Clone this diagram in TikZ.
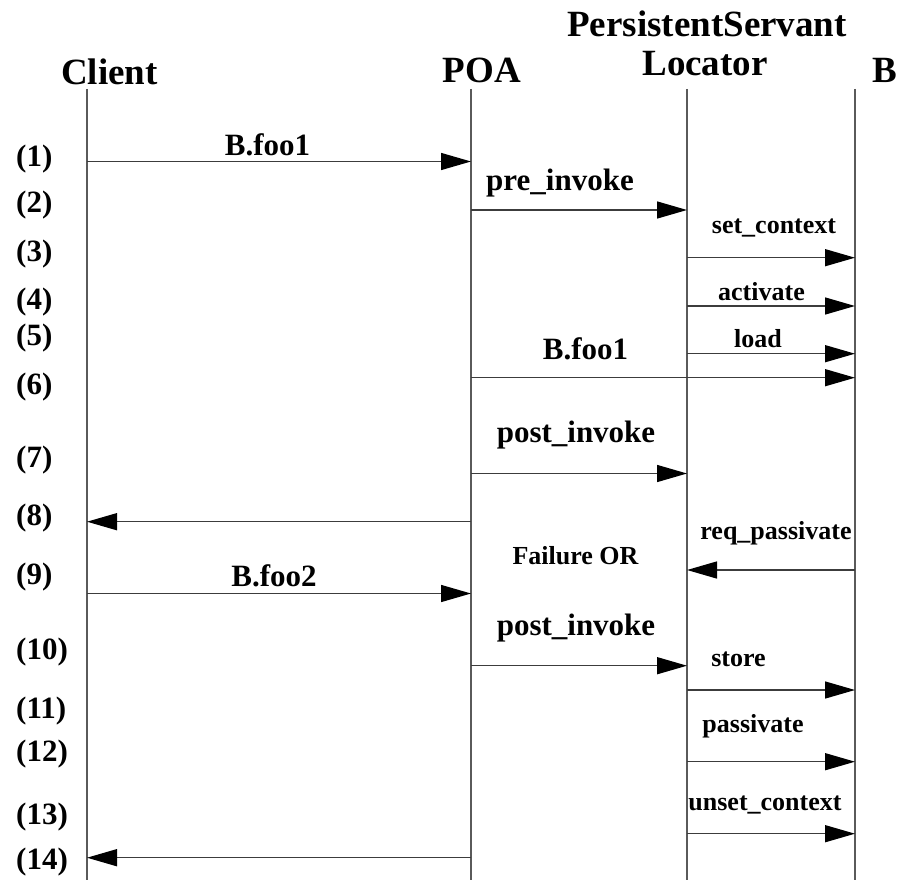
\documentclass[tikz,border=0pt]{standalone}
\usepackage{fontspec}
\setmainfont{Liberation Serif}
\usetikzlibrary{arrows.meta}
\definecolor{wire}{RGB}{90,90,90}
\definecolor{msgwire}{RGB}{60,60,60}
\begin{document}
\begin{tikzpicture}[x=1pt,y=-1pt,
  lifeline/.style={draw=wire,line width=1.8pt},
  msg/.style={draw=msgwire,line width=1.4pt,-{Triangle[length=30pt,width=17pt,color=black]}},
  head/.style={font=\fontsize{37}{37}\selectfont\bfseries,inner sep=0pt,anchor=base},
  biglbl/.style={font=\fontsize{31}{31}\selectfont\bfseries,inner sep=0pt,anchor=base},
  smalllbl/.style={font=\fontsize{26}{26}\selectfont\bfseries,inner sep=0pt,anchor=base},
  stepno/.style={font=\fontsize{31}{31}\selectfont\bfseries,inner sep=0pt,anchor=west},
]
\useasboundingbox (0,0) rectangle (904,880);

% participants
\node[head] (hClient) at (109.5,85) {Client};
\node[head] (hPOA)    at (482,83)   {POA};
\node[head] (hPSL)    at (707,37)   {PersistentServant};
\node[head] (hLoc)    at (705,76)   {Locator};
\node[head] (hB)      at (885,83)   {B};

% lifelines
\coordinate (Ct) at (87,89);  \coordinate (Cb) at (87,880);
\coordinate (Pt) at (471,89); \coordinate (Pb) at (471,880);
\coordinate (Lt) at (687,89); \coordinate (Lb) at (687,880);
\coordinate (Bt) at (855,89); \coordinate (Bb) at (855,880);
\draw[lifeline] (Ct) -- (Cb);
\draw[lifeline] (Pt) -- (Pb);
\draw[lifeline] (Lt) -- (Lb);
\draw[lifeline] (Bt) -- (Bb);

% step numbers
\node[stepno] (n1)  at (16,159.5) {(1)};
\node[stepno] (n2)  at (16,205)   {(2)};
\node[stepno] (n3)  at (16,254)   {(3)};
\node[stepno] (n4)  at (16,302.5) {(4)};
\node[stepno] (n5)  at (16,338.3) {(5)};
\node[stepno] (n6)  at (16,386.7) {(6)};
\node[stepno] (n7)  at (16,460)   {(7)};
\node[stepno] (n8)  at (16,518.3) {(8)};
\node[stepno] (n9)  at (16,577.5) {(9)};
\node[stepno] (n10) at (16,651.7) {(10)};
\node[stepno] (n11) at (16,711)   {(11)};
\node[stepno] (n12) at (16,754)   {(12)};
\node[stepno] (n13) at (16,817.5) {(13)};
\node[stepno] (n14) at (16,862)   {(14)};

% message end points on the lifelines
\coordinate (c1) at (87,161.5);   \coordinate (p1) at (471,161.5);
\coordinate (p2) at (471,210);    \coordinate (l2) at (687,210);
\coordinate (l3) at (687,257.7);  \coordinate (b3) at (855,257.7);
\coordinate (l4) at (687,306);    \coordinate (b4) at (855,306);
\coordinate (l5) at (687,353.7);  \coordinate (b5) at (855,353.7);
\coordinate (p6) at (471,377.7);  \coordinate (b6) at (855,377.7);
\coordinate (p7) at (471,473.5);  \coordinate (l7) at (687,473.5);
\coordinate (p8) at (471,521.7);  \coordinate (c8) at (87,521.7);
\coordinate (bq) at (855,570);    \coordinate (lq) at (687,570);
\coordinate (c9) at (87,593.5);   \coordinate (p9) at (471,593.5);
\coordinate (p10) at (471,665.7); \coordinate (l10) at (687,665.7);
\coordinate (l11) at (687,690);   \coordinate (b11) at (855,690);
\coordinate (l12) at (687,761.7); \coordinate (b12) at (855,761.7);
\coordinate (l13) at (687,833.7); \coordinate (b13) at (855,833.7);
\coordinate (p14) at (471,857.7); \coordinate (c14) at (87,857.7);

% messages
\draw[msg] (c1) -- (p1);
\draw[msg] (p2) -- (l2);
\draw[msg] (l3) -- (b3);
\draw[msg] (l4) -- (b4);
\draw[msg] (l5) -- (b5);
\draw[msg] (p6) -- (b6);
\draw[msg] (p7) -- (l7);
\draw[msg] (p8) -- (c8);
\draw[msg] (bq) -- (lq);
\draw[msg] (c9) -- (p9);
\draw[msg] (p10) -- (l10);
\draw[msg] (l11) -- (b11);
\draw[msg] (l12) -- (b12);
\draw[msg] (l13) -- (b13);
\draw[msg] (p14) -- (c14);

% message labels
\node[biglbl]   (t1)  at (267.5,155)   {B.foo1};
\node[biglbl]   (t2)  at (560,190.5)   {pre\_invoke};
\node[smalllbl] (t3)  at (774,233.3)   {set\_context};
\node[smalllbl] (t4)  at (761.5,300)   {activate};
\node[smalllbl] (t5)  at (758,347.7)   {load};
\node[biglbl]   (t6)  at (585.5,359.3) {B.foo1};
\node[biglbl]   (t7)  at (576,442)     {post\_invoke};
\node[smalllbl] (tq)  at (776,539)     {req\_passivate};
\node[smalllbl] (tf)  at (575.5,564)   {Failure OR};
\node[biglbl]   (t9)  at (274,586.7)   {B.foo2};
\node[biglbl]   (t10) at (576,635)     {post\_invoke};
\node[smalllbl] (t11) at (738.5,666.7) {store};
\node[smalllbl] (t12) at (753,732.3)   {passivate};
\node[smalllbl] (t13) at (765,810)     {unset\_context};
\end{tikzpicture}
\end{document}
